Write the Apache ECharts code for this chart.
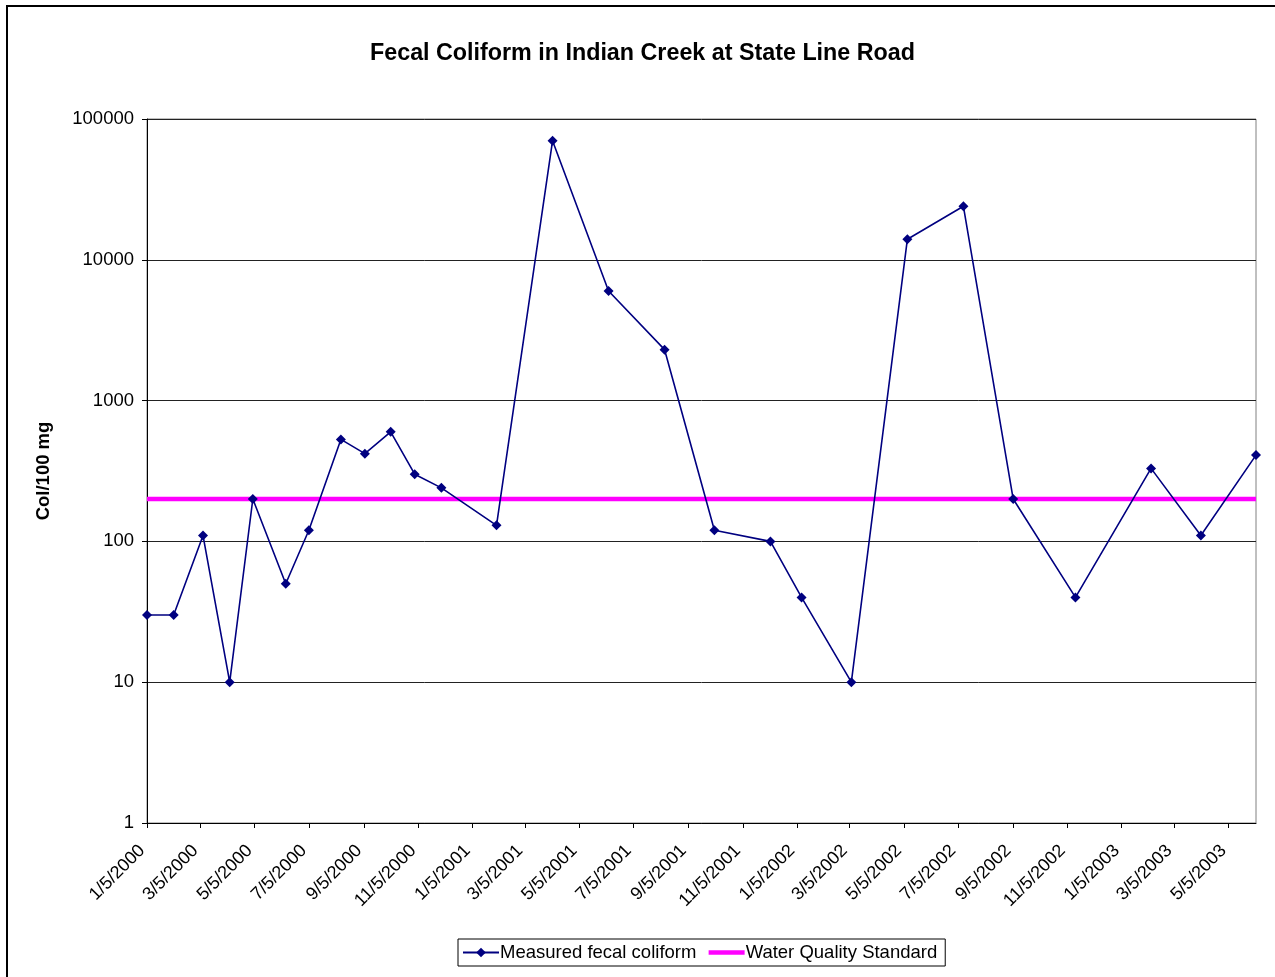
<!DOCTYPE html>
<html>
<head>
<meta charset="utf-8">
<script src="https://cdn.jsdelivr.net/npm/echarts@6/dist/echarts.min.js"></script>
<style>
html,body{margin:0;padding:0;background:#fff;}
#c{width:1275px;height:977px;}
</style>
</head>
<body>
<div id="c"></div>
<script>
// Sample dates (M/D/YYYY)
const sampleDates = [
  '1/5/2000','2/4/2000','3/8/2000','4/7/2000','5/3/2000','6/9/2000','7/5/2000',
  '8/10/2000','9/6/2000','10/5/2000','11/1/2000','12/1/2000','2/1/2001','4/5/2001',
  '6/7/2001','8/9/2001','10/4/2001','12/6/2001','1/10/2002','3/7/2002','5/9/2002',
  '7/11/2002','9/5/2002','11/14/2002','2/7/2003','4/4/2003','6/5/2003'
];
// Measured fecal coliform (Col/100 mg)
const measured = [
  30, 30, 110, 10, 200, 50, 120,
  530, 420, 600, 300, 240, 130, 70000,
  6000, 2300, 120, 100, 40, 10, 14000,
  24000, 200, 40, 330, 110, 410
];
// Water quality standard
const standardValue = 200;
// X-axis tick labels
const tickLabels = [
  '1/5/2000','3/5/2000','5/5/2000','7/5/2000','9/5/2000','11/5/2000',
  '1/5/2001','3/5/2001','5/5/2001','7/5/2001','9/5/2001','11/5/2001',
  '1/5/2002','3/5/2002','5/5/2002','7/5/2002','9/5/2002','11/5/2002',
  '1/5/2003','3/5/2003','5/5/2003'
];

const DAY = 86400000;
function toDay(s){
  const p = s.split('/').map(Number);
  return Math.round(Date.UTC(p[2], p[0]-1, p[1]) / DAY);
}
const days = sampleDates.map(toDay);
const tickDays = tickLabels.map(toDay);
const measuredData = days.map((d,i)=>[d, measured[i]]);
const standardData = days.map(d=>[d, standardValue]);

const FONT = 'Arial, "Liberation Sans", sans-serif';
const chart = echarts.init(document.getElementById('c'), null, {renderer:'canvas'});
chart.setOption({
  backgroundColor:'#fff',
  animation:false,
  textStyle:{fontFamily:FONT},
  title:{
    text:'Fecal Coliform in Indian Creek at State Line Road',
    left:365, top:37,
    textStyle:{fontFamily:FONT, fontSize:23.3, fontWeight:'bold', color:'#000'}
  },
  graphic:[{
    type:'rect', silent:true,
    shape:{x:7, y:6, width:1300, height:1010},
    style:{fill:'none', stroke:'#000', lineWidth:2}
  }],
  grid:{left:147, right:19, top:119, bottom:154, show:true, borderColor:'#808080', borderWidth:1, backgroundColor:'#fff'},
  legend:{
    bottom:11, left:458,
    data:[
      {name:'Measured fecal coliform'},
      {name:'Water Quality Standard', itemStyle:{opacity:0}, lineStyle:{width:4.5, color:'#FF00FF'}}
    ],
    borderColor:'#000', borderWidth:1, borderRadius:0,
    padding:[4,8,4,4],
    itemWidth:36, itemHeight:12, itemGap:10,
    textStyle:{fontFamily:FONT, fontSize:18.5, color:'#000', padding:[0,0,0,-4]}
  },
  xAxis:{
    type:'value',
    min:days[0], max:days[days.length-1],
    axisLine:{lineStyle:{color:'#000', width:1}},
    axisTick:{show:true, inside:false, length:5, customValues:tickDays, lineStyle:{color:'#000'}},
    axisLabel:{
      customValues:tickDays, rotate:45, margin:20, padding:[0,7,0,0],
      fontFamily:FONT, fontSize:18, color:'#000',
      formatter:function(v){
        const i = tickDays.indexOf(Math.round(v));
        return i >= 0 ? tickLabels[i] : '';
      }
    },
    splitLine:{show:false}
  },
  yAxis:{
    type:'log', logBase:10, min:1, max:100000,
    name:'Col/100 mg', nameLocation:'middle', nameGap:94, nameRotate:90,
    nameTextStyle:{fontFamily:FONT, fontSize:18.5, fontWeight:'bold', color:'#000'},
    axisLine:{show:true, lineStyle:{color:'#000', width:1}},
    axisTick:{show:true, inside:false, length:5, lineStyle:{color:'#000'}},
    axisLabel:{
      margin:13, fontFamily:FONT, fontSize:18.5, color:'#000',
      formatter:function(v){ return String(Math.round(v)); }
    },
    splitLine:{show:true, lineStyle:{color:'#222', width:1}}
  },
  series:[
    {
      name:'Measured fecal coliform', type:'line',
      data:measuredData,
      symbol:'diamond', symbolSize:10,
      lineStyle:{color:'#000080', width:1.6},
      itemStyle:{color:'#000080'},
      z:3
    },
    {
      name:'Water Quality Standard', type:'line',
      data:standardData,
      symbol:'none', showSymbol:false,
      lineStyle:{color:'#FF00FF', width:4.5},
      itemStyle:{color:'#FF00FF'},
      z:2
    }
  ]
});
</script>
</body>
</html>
